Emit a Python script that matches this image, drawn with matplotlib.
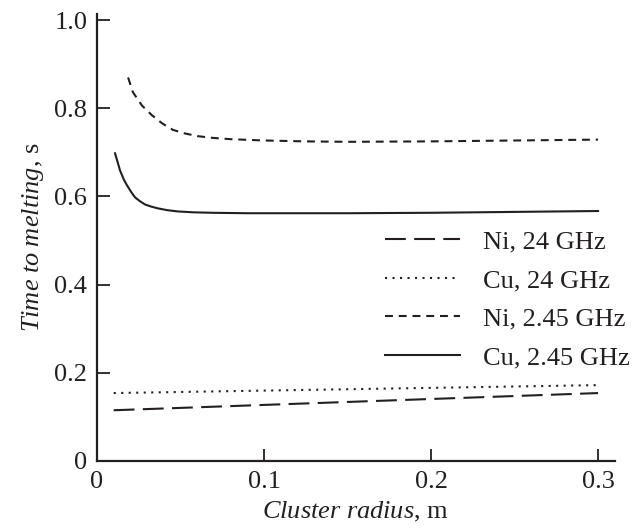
import matplotlib
matplotlib.use("Agg")
import matplotlib.pyplot as plt

plt.rcParams['font.family'] = ['Liberation Serif', 'DejaVu Serif']
plt.rcParams['mathtext.fontset'] = 'custom'
plt.rcParams['mathtext.rm'] = 'Liberation Serif'
plt.rcParams['mathtext.it'] = 'Liberation Serif:italic'

# Data
x_ni24 = [0.01, 0.3]
y_ni24 = [0.115, 0.154]
x_cu24 = [0.01, 0.3]
y_cu24 = [0.154, 0.172]
x_ni245 = [0.0186, 0.0216, 0.027, 0.033, 0.039, 0.0455, 0.0527, 0.060, 0.069, 0.08,
           0.1, 0.125, 0.15, 0.2, 0.25, 0.3]
y_ni245 = [0.870, 0.836, 0.806, 0.784, 0.766, 0.751, 0.743, 0.737, 0.733, 0.730,
           0.727, 0.725, 0.724, 0.725, 0.727, 0.729]
x_cu245 = [0.0108, 0.0125, 0.0138, 0.016, 0.018, 0.0205, 0.0228, 0.0258, 0.0287,
           0.0325, 0.0365, 0.042, 0.0485, 0.058, 0.069, 0.09, 0.12, 0.15, 0.2, 0.25, 0.3]
y_cu245 = [0.698, 0.676, 0.659, 0.639, 0.625, 0.610, 0.598, 0.589, 0.582,
           0.577, 0.573, 0.569, 0.566, 0.564, 0.563, 0.562, 0.562, 0.562, 0.563, 0.565, 0.567]

labels = ['Ni, 24 GHz', 'Cu, 24 GHz', 'Ni, 2.45 GHz', 'Cu, 2.45 GHz']
xticks = [0, 0.1, 0.2, 0.3]
xticklabels = ['0', '0.1', '0.2', '0.3']
yticks = [0, 0.2, 0.4, 0.6, 0.8, 1.0]
yticklabels = ['0', '0.2', '0.4', '0.6', '0.8', '1.0']

fig = plt.figure(figsize=(6.44, 5.28), dpi=100)
ax = fig.add_axes([0.1506, 0.127, 0.804, 0.8465])

c = '#231f20'
ax.plot(x_ni24, y_ni24, color=c, lw=1.5, dashes=(10, 4), label=labels[0])
ax.plot(x_cu24, y_cu24, color=c, lw=1.5, dashes=(1.0, 2.6), label=labels[1])
ax.plot(x_ni245, y_ni245, color=c, lw=1.5, dashes=(3.8, 2.8), label=labels[2])
ax.plot(x_cu245, y_cu245, color=c, lw=1.5, label=labels[3])

ax.set_xlim(0, 0.31)
ax.set_ylim(0, 1.014)
ax.set_xticks(xticks)
ax.set_xticklabels(xticklabels)
ax.set_yticks(yticks)
ax.set_yticklabels(yticklabels)
ax.spines['top'].set_visible(False)
ax.spines['right'].set_visible(False)
for s in ['left', 'bottom']:
    ax.spines[s].set_linewidth(1.6)
    ax.spines[s].set_color(c)
ax.tick_params(direction='in', length=9, width=1.3, labelsize=19, colors=c)
ax.tick_params(axis='x', pad=7)
ax.tick_params(axis='y', pad=7)

ax.set_xlabel(r'$\mathit{Cluster\ radius}$, m', fontsize=19, color=c, labelpad=5)
ax.set_ylabel(r'$\mathit{Time\ to\ melting}$, s', fontsize=19, color=c, labelpad=6)

leg = fig.legend(loc='upper left', bbox_to_anchor=(385 / 644, 1 - 230 / 528),
                 bbox_transform=fig.transFigure, frameon=False, borderpad=0,
                 borderaxespad=0, fontsize=19, handlelength=2.85, handletextpad=0.85,
                 labelspacing=0.57, labelcolor=c)

fig.savefig('out.png', dpi=100)
